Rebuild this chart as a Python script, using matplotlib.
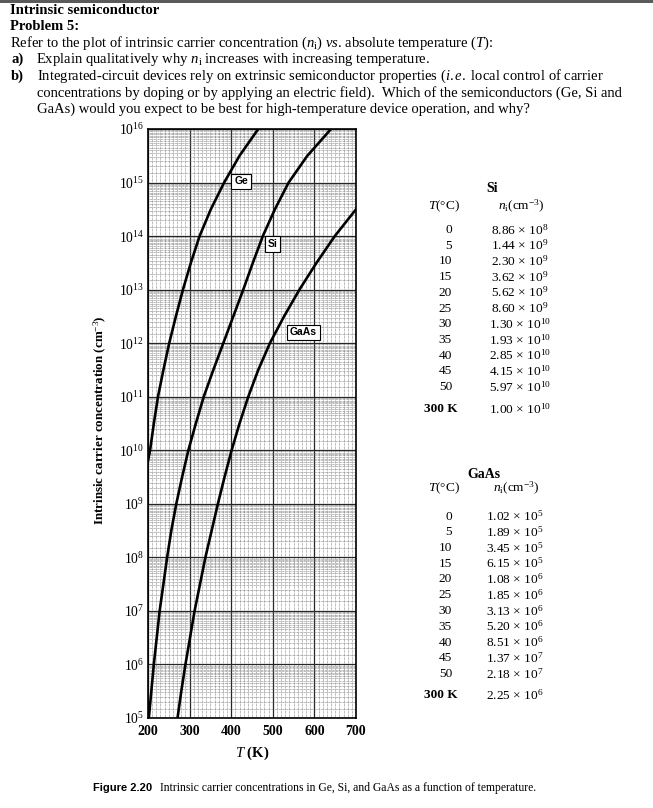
import numpy as np
import matplotlib
matplotlib.use("Agg")
import matplotlib.pyplot as plt
from matplotlib.lines import Line2D
from matplotlib.patches import Rectangle
from matplotlib.ticker import FixedLocator, NullFormatter

plt.rcParams['font.family'] = ['Liberation Serif', 'DejaVu Serif']
plt.rcParams['mathtext.fontset'] = 'custom'
plt.rcParams['mathtext.rm'] = 'Liberation Serif'
plt.rcParams['mathtext.it'] = 'Liberation Serif:italic'
plt.rcParams['mathtext.bf'] = 'Liberation Serif:bold'

# Curves: temperature (K) vs log10 of n_i (cm^-3)
ge_T = [200, 205, 214, 224, 237, 251, 267, 284, 303, 324, 351, 383, 420, 465]
ge_log = [9.8, 10, 10.5, 11, 11.5, 12, 12.5, 13, 13.5, 14, 14.5, 15, 15.5, 16]

si_T = [202, 208, 214, 221, 228, 237, 246, 256, 268, 282, 297, 315, 334, 357, 381,
        405, 429, 452, 476, 505, 538, 583, 640]
si_log = [5, 5.5, 6, 6.5, 7, 7.5, 8, 8.5, 9, 9.5, 10, 10.5, 11, 11.5, 12,
          12.5, 13, 13.5, 14, 14.5, 15, 15.5, 16]

gaas_T = [271, 280, 290, 301, 312, 325, 338, 353, 368, 384, 401, 420, 441, 465, 493,
          527, 564, 605, 649, 700]
gaas_log = [5, 5.5, 6, 6.5, 7, 7.5, 8, 8.5, 9, 9.5, 10, 10.5, 11, 11.5, 12,
            12.5, 13, 13.5, 14, 14.5]

# Tables
celsius = [0, 5, 10, 15, 20, 25, 30, 35, 40, 45, 50]
si_mant = ["8.86", "1.44", "2.30", "3.62", "5.62", "8.60", "1.30", "1.93", "2.85", "4.15", "5.97"]
si_exp = [8, 9, 9, 9, 9, 9, 10, 10, 10, 10, 10]
si_300 = ("1.00", 10)
gaas_mant = ["1.02", "1.89", "3.45", "6.15", "1.08", "1.85", "3.13", "5.20", "8.51", "1.37", "2.18"]
gaas_exp = [5, 5, 5, 5, 6, 6, 6, 6, 6, 7, 7]
gaas_300 = ("2.25", 6)

W, H = 653, 808
fig = plt.figure(figsize=(W / 100, H / 100), dpi=100)


def fx(x):
    return x / W


def fy(y):
    return 1 - y / H


def txt(x, y, s, **kw):
    kw.setdefault('fontsize', 10.55)
    kw.setdefault('va', 'baseline')
    fig.text(fx(x), fy(y), s, **kw)


# scan border at the top
fig.patches.append(Rectangle((0, fy(3)), 1, 3 / H, transform=fig.transFigure,
                             color='#5a5a5a', lw=0))

# header text
txt(10, 14, "Intrinsic semiconductor", fontweight='bold')
txt(10, 30, "Problem 5:", fontweight='bold')
fig.lines.append(Line2D([fx(11), fx(78)], [fy(32.5), fy(32.5)], color='black', lw=1.0))
txt(10, 47, r"Refer to the plot of intrinsic carrier concentration ($n_{\rm i}$) $vs$. "
            r"absolute temperature ($T$):")
txt(11, 63, "a)", fontweight='bold')
txt(36, 63, r"Explain qualitatively why $n_{\rm i}$ increases with increasing temperature.")
txt(11, 80, "b)", fontweight='bold')
txt(37, 80, r"Integrated-circuit devices rely on extrinsic semiconductor properties "
            r"($i.e.$ local control of carrier")
txt(37, 97, "concentrations by doping or by applying an electric field).  Which of the "
            "semiconductors (Ge, Si and")
txt(37, 113, "GaAs) would you expect to be best for high-temperature device operation, and why?")

# chart
ax = fig.add_axes([fx(148), fy(718), (356 - 148) / W, (718 - 129) / H])
ax.set_yscale('log')
ax.set_xlim(200, 700)
ax.set_ylim(1e5, 1e16)

ax.xaxis.set_major_locator(FixedLocator([200, 300, 400, 500, 600, 700]))
ax.xaxis.set_minor_locator(FixedLocator(np.arange(200, 701, 10)))
decades = [10.0**k for k in range(5, 17)]
ax.yaxis.set_major_locator(FixedLocator(decades))
minor_y = [d * s for d in decades[:-1] for s in np.arange(1.5, 10, 0.5)]
ax.yaxis.set_minor_locator(FixedLocator(minor_y))
ax.yaxis.set_minor_formatter(NullFormatter())
ax.set_yticklabels([r"$10^{%d}$" % k for k in range(5, 17)])
ax.grid(which='minor', color='0.45', lw=0.5, linestyle=(0, (1, 1)))
ax.grid(which='major', color='0.15', lw=0.9)
ax.set_axisbelow(True)
ax.tick_params(which='both', length=0)
ax.tick_params(axis='y', labelsize=9.8, pad=3)
ax.tick_params(axis='x', labelsize=10, pad=5)
for lab in ax.get_xticklabels():
    lab.set_fontweight('bold')
for sp in ax.spines.values():
    sp.set_linewidth(1.2)

for T, lg in [(ge_T, ge_log), (si_T, si_log), (gaas_T, gaas_log)]:
    ax.plot(T, 10.0 ** np.array(lg), color='black', lw=1.9, zorder=4)

box = dict(boxstyle='square,pad=0.28', fc='white', ec='black', lw=0.8)
for name, x, y in [("Ge", 424, 10**15.02), ("Si", 499, 10**13.86), ("GaAs", 574, 10**12.2)]:
    ax.text(x, y, name, ha='center', va='center', fontsize=7.5, fontweight='bold',
            family='Liberation Sans', bbox=box, zorder=5)

ax.set_xlabel(r"$T$ (K)", fontsize=10.5, fontweight='bold', labelpad=5)
fig.text(fx(100), fy(420), r"Intrinsic carrier concentration (cm$^{-3}$)", fontsize=9.4,
         fontweight='bold', rotation=90, ha='center', va='center')


def table(title, title_x, y_title, y_head, y_rule1, y_rows, y_rule2, y_300, mant, exps, v300, vx):
    fs = 9.6
    txt(title_x, y_title, title, fontsize=10, fontweight='bold', ha='center', va='center')
    txt(460, y_head, r"$T$(°C)", fontsize=fs, ha='right', va='center')
    txt(vx + 1, y_head, r"$n_{\rm i}$(cm$^{-3}$)", fontsize=fs, ha='center', va='center')
    fig.lines.append(Line2D([fx(436), fx(553)], [fy(y_rule1)] * 2, color='black', lw=0.8))
    for c, m, e, y in zip(celsius, mant, exps, y_rows):
        txt(452, y, str(c), fontsize=fs, ha='right', va='center')
        txt(vx, y, m + r" × 10$^{%d}$" % e, fontsize=fs, ha='center', va='center')
    fig.lines.append(Line2D([fx(436), fx(553)], [fy(y_rule2)] * 2, color='black', lw=0.8))
    txt(458, y_300, "300 K", fontsize=fs, ha='right', va='center', fontweight='bold')
    txt(vx, y_300, v300[0] + r" × 10$^{%d}$" % v300[1], fontsize=fs, ha='center', va='center')


table("Si", 492, 189, 206, 214.5, [230 + 15.7 * i for i in range(11)], 398.5, 409.5,
      si_mant, si_exp, si_300, 520)
table("GaAs", 484, 475, 488.5, 498, [516.5 + 15.75 * i for i in range(11)], 684, 695,
      gaas_mant, gaas_exp, gaas_300, 515)

# caption
txt(93, 791, "Figure 2.20", fontsize=8, fontweight='bold', family='Liberation Sans')
txt(160, 791, "Intrinsic carrier concentrations in Ge, Si, and GaAs as a function of temperature.",
    fontsize=8.4)

fig.savefig("out.png", dpi=100)
